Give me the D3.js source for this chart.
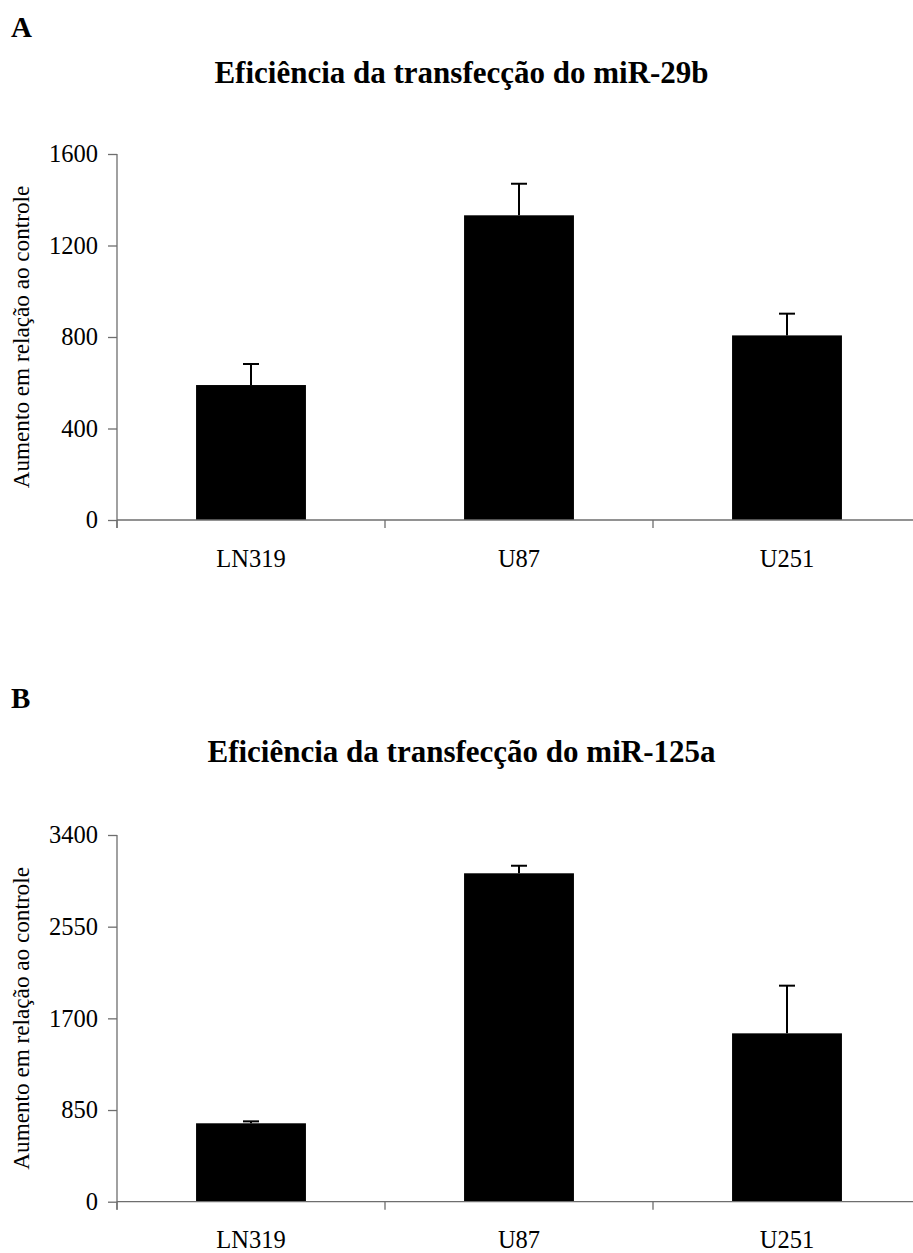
<!DOCTYPE html>
<html>
<head>
<meta charset="utf-8">
<script src="https://cdn.jsdelivr.net/npm/d3@7"></script>
<style>
  html, body { margin: 0; padding: 0; background: #fff; }
  svg { display: block; }
  svg text { font-family: "Liberation Serif", "Times New Roman", serif !important; fill: #000; }
</style>
</head>
<body>
<svg id="chart" width="913" height="1253"></svg>
<script>
// Cell lines (shared by both panels)
const categories = ["LN319", "U87", "U251"];

// Panel A: miR-29b fold increase and its error
const valuesA = [590, 1332, 807];
const errorsA = [92, 138, 95];
const ticksA = [0, 400, 800, 1200, 1600];

// Panel B: miR-125a fold increase and its error
const valuesB = [727, 3045, 1561];
const errorsB = [18, 70, 442];
const ticksB = [0, 850, 1700, 2550, 3400];

const titles = ["Eficiência da transfecção do miR-29b", "Eficiência da transfecção do miR-125a"];
const panelLetters = ["A", "B"];
const yLabel = "Aumento em relação ao controle";

const svg = d3.select("#chart");
const serif = "Liberation Serif, Times New Roman, serif";

function drawPanel(opt) {
  const g = svg.append("g").attr("font-family", serif);
  const left = 117, right = 921;
  const top = opt.top, bottom = opt.bottom;

  const x = d3.scaleBand().domain(categories).range([left, right]).padding(0);
  const y = d3.scaleLinear().domain([0, opt.ticks[opt.ticks.length - 1]]).range([bottom, top]);
  const barW = x.bandwidth() * 0.41;

  // panel letter
  g.append("text")
    .attr("x", 11).attr("y", opt.letterY)
    .attr("font-size", 29).attr("font-weight", "bold")
    .text(opt.letter);

  // title
  g.append("text")
    .attr("x", 461.5).attr("y", opt.titleY)
    .attr("text-anchor", "middle")
    .attr("font-size", 31).attr("font-weight", "bold")
    .text(opt.title);

  // bars
  g.selectAll("rect.bar").data(opt.values).enter().append("rect")
    .attr("class", "bar")
    .attr("x", (d, i) => x(categories[i]) + x.bandwidth() / 2 - barW / 2)
    .attr("width", barW)
    .attr("y", d => y(d))
    .attr("height", d => y(0) - y(d))
    .attr("fill", "#000");

  // upper error bars
  const eb = g.selectAll("g.err").data(opt.values).enter().append("g").attr("class", "err");
  eb.append("line")
    .attr("x1", (d, i) => x(categories[i]) + x.bandwidth() / 2)
    .attr("x2", (d, i) => x(categories[i]) + x.bandwidth() / 2)
    .attr("y1", d => y(d))
    .attr("y2", (d, i) => y(d + opt.errors[i]))
    .attr("stroke", "#000").attr("stroke-width", 2);
  eb.append("line")
    .attr("x1", (d, i) => x(categories[i]) + x.bandwidth() / 2 - 8)
    .attr("x2", (d, i) => x(categories[i]) + x.bandwidth() / 2 + 8)
    .attr("y1", (d, i) => y(d + opt.errors[i]))
    .attr("y2", (d, i) => y(d + opt.errors[i]))
    .attr("stroke", "#000").attr("stroke-width", 2);

  // y axis
  const yAxis = d3.axisLeft(y).tickValues(opt.ticks).tickSize(9).tickPadding(10).tickFormat(d3.format("d"));
  const ya = g.append("g").attr("transform", `translate(${left},0)`).call(yAxis)
    .attr("font-family", serif).attr("font-size", 24.5);
  ya.select(".domain").attr("d", `M0,${top}V${bottom + 8}`).attr("stroke", "#6e6e6e").attr("stroke-width", 1.3);
  ya.selectAll(".tick line").attr("stroke", "#6e6e6e").attr("stroke-width", 1.3);
  ya.selectAll(".tick text").attr("fill", "#000");

  // x axis: ticks at category boundaries, labels centred under bars
  const xa = g.append("g").attr("transform", `translate(0,${bottom})`);
  xa.append("line").attr("x1", left).attr("x2", right).attr("y1", 0).attr("y2", 0)
    .attr("stroke", "#6e6e6e").attr("stroke-width", 1.3);
  const bounds = categories.map(c => x(c)).concat([right]);
  xa.selectAll("line.tk").data(bounds).enter().append("line").attr("class", "tk")
    .attr("x1", d => d).attr("x2", d => d).attr("y1", 0).attr("y2", 8)
    .attr("stroke", "#6e6e6e").attr("stroke-width", 1.3);
  xa.selectAll("text.cat").data(categories).enter().append("text").attr("class", "cat")
    .attr("x", d => x(d) + x.bandwidth() / 2)
    .attr("y", opt.catDy)
    .attr("text-anchor", "middle")
    .attr("font-size", 24.5)
    .text(d => d);

  // y axis title
  g.append("text")
    .attr("transform", `translate(29,${(top + bottom) / 2}) rotate(-90)`)
    .attr("text-anchor", "middle")
    .attr("font-size", 23.2)
    .text(yLabel);
}

drawPanel({ letter: panelLetters[0], letterY: 37, title: titles[0], titleY: 83,
  top: 154, bottom: 520, values: valuesA, errors: errorsA, ticks: ticksA, catDy: 47 });
drawPanel({ letter: panelLetters[1], letterY: 708, title: titles[1], titleY: 762,
  top: 835, bottom: 1201.7, values: valuesB, errors: errorsB, ticks: ticksB, catDy: 46 });
</script>
</body>
</html>
